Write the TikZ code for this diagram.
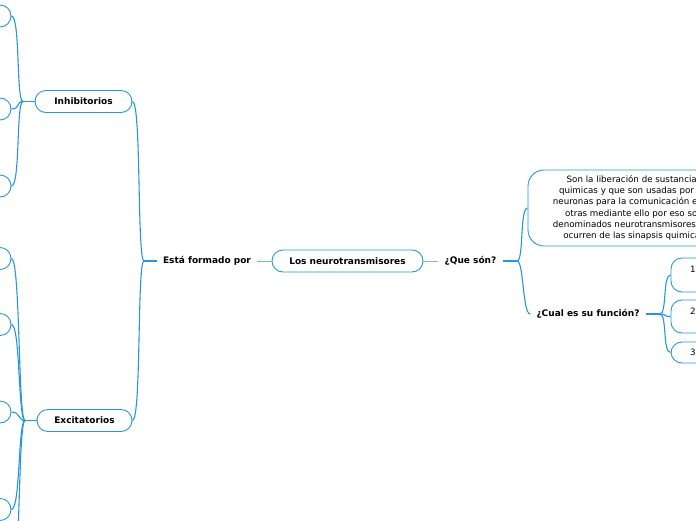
\documentclass[tikz,border=0pt]{standalone}
\usepackage{fontspec}
\setmainfont{DejaVu Sans}
\usepackage{tikz}
\definecolor{mapblue}{RGB}{38,150,224}
\definecolor{lightblue}{RGB}{120,185,235}

\tikzset{
  topic/.style={draw=mapblue, line width=0.9pt, rounded corners=11pt, inner sep=0pt,
    minimum height=22pt, font=\bfseries\fontsize{9}{11}\selectfont},
  plain/.style={inner sep=6pt, font=\bfseries\fontsize{9}{11}\selectfont},
  leaf/.style={draw=mapblue, line width=0.9pt, rounded corners=11pt, inner sep=0pt,
    minimum width=60pt, minimum height=22pt, font=\fontsize{8.7}{11}\selectfont},
  branch/.style={draw=mapblue, line width=1.1pt},
  stub/.style={draw=mapblue, line width=1.9pt},
  link/.style={draw=lightblue, line width=1pt}
}

\begin{document}
\begin{tikzpicture}[x=1pt,y=-1pt]
  \useasboundingbox (0,0) rectangle (696,520);
  \clip (0,0) rectangle (696,520);

  % main topics
  \node[topic, minimum width=97pt] (inhib) at (83.5,101.5) {Inhibitorios};
  \node[topic, minimum width=95pt] (excit) at (84.5,420.5) {Excitatorios};
  \node[plain] (formado) at (207,261) {Está formado por};
  \node[topic, minimum width=151pt] (neuro) at (347.5,261) {Los neurotransmisores};
  \node[plain] (queson) at (470.5,261) {¿Que són?};
  \node[plain] (cual) at (588,314) {¿Cual es su función?};
  \node[draw=mapblue, line width=0.9pt, rounded corners=16pt, minimum width=212pt,
    minimum height=76pt, align=center, inner sep=0pt,
    font=\fontsize{8.7}{11.3}\selectfont] (defin) at (634,208)
    {Son la liberación de sustancias\\quimicas y que son usadas por las\\neuronas para la comunicación entre\\otras mediante ello por eso son\\denominados neurotransmisores que\\ocurren de las sinapsis quimicas};

  % junctions
  \coordinate (jinh) at (23,101.5);
  \coordinate (jexc) at (25,420.5);
  \coordinate (jroot) at (144,261);
  \coordinate (jque) at (517,261);
  \coordinate (jcual) at (660,314);

  % leaves on the left
  \foreach \y [count=\i] in {16,109,186}{
    \node[leaf] (inh\i) at (-19,\y) {};
    \draw[branch] (jinh) .. controls +(-7,0) and +(9,0) .. (inh\i.east);}
  \foreach \y [count=\i] in {258.5,324.5,412,509.5,590}{
    \node[leaf] (exc\i) at (-19,\y) {};
    \draw[branch] (jexc) .. controls +(-7,0) and +(9,0) .. (exc\i.east);}

  % leaves on the right
  \foreach \y/\h/\lab [count=\i] in {275/34/{1.\\\phantom{1.}}, 316.5/33/{2.\\\phantom{2.}}, 352.5/21/{3.}}{
    \node[leaf, minimum height=\h pt, text width=60pt, inner xsep=19pt, align=left] (fun\i) at (720,\y) {\lab};
    \draw[branch] (jcual) .. controls +(7,0) and +(-8,0) .. (fun\i.west);}

  \draw[stub] (inhib.west) -- (jinh);
  \draw[stub] (excit.west) -- (jexc);
  \draw[stub] (formado.west) -- (jroot);
  \draw[branch] (jroot) .. controls +(-7,0) and +(9,0) .. (inhib.east);
  \draw[branch] (jroot) .. controls +(-7,0) and +(9,0) .. (excit.east);
  \draw[link] (formado.east) -- (neuro.west);
  \draw[link] (neuro.east) -- (queson.west);
  \draw[stub] (queson.east) -- (jque);
  \draw[branch] (jque) .. controls +(7,0) and +(-8,0) .. (defin.west);
  \draw[branch] (jque) .. controls +(7,0) and +(-8,0) .. (cual.west);
  \draw[stub] (cual.east) -- (jcual);
\end{tikzpicture}
\end{document}
